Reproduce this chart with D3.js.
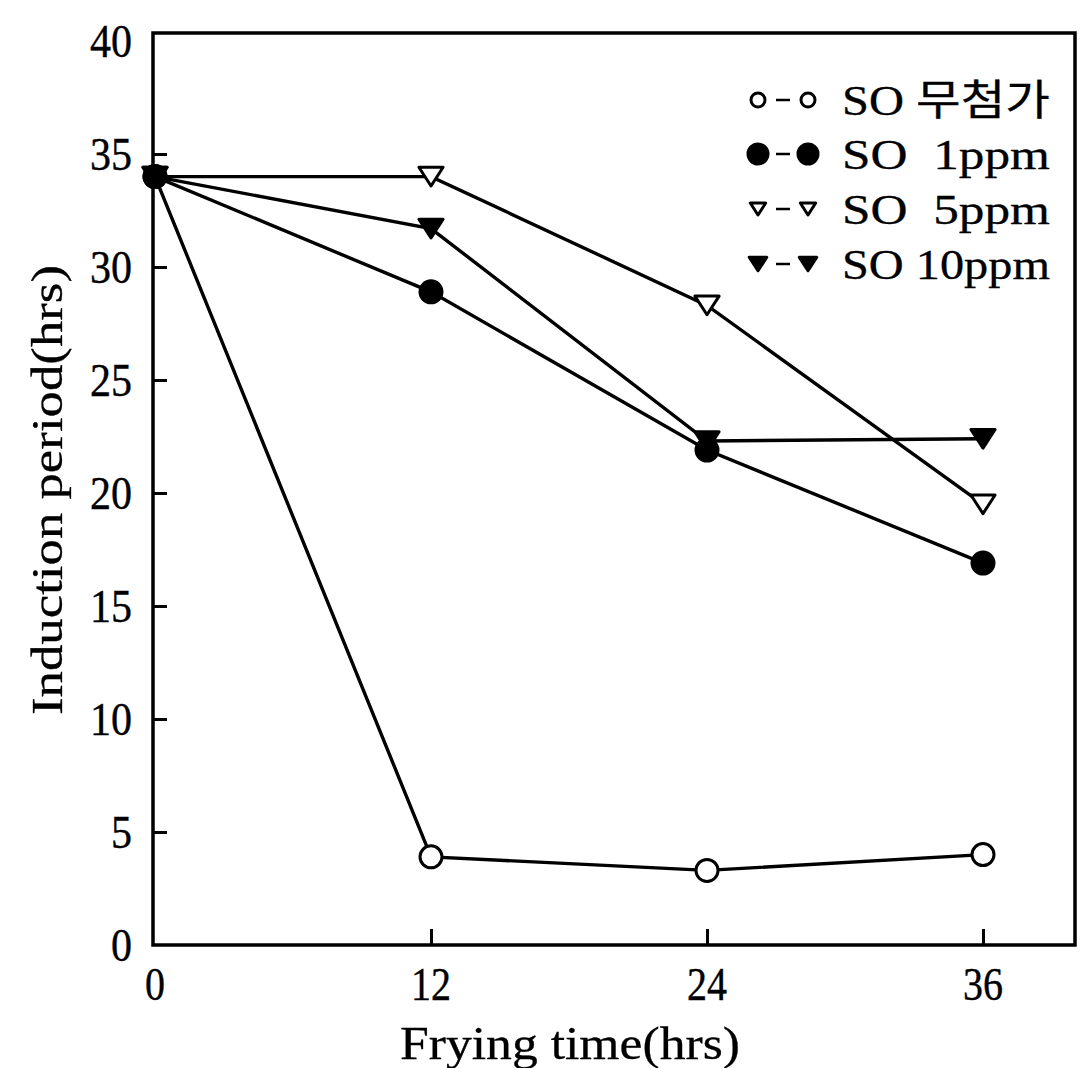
<!DOCTYPE html>
<html>
<head>
<meta charset="utf-8">
<script src="https://cdn.jsdelivr.net/npm/d3@7"></script>
<style>
  body { margin: 0; background: #fff; }
  svg text { font-family: "Liberation Serif", "DejaVu Serif", "Noto Sans CJK KR", serif; fill: #000; }
</style>
</head>
<body>
<div id="chart"></div>
<script>
// frying time (hrs)
var hours = [0, 12, 24, 36];

// induction period (hrs) for each treatment
var soNone = [34, 3.9, 3.3, 4.0];
var so1ppm = [34, 28.9, 21.9, 16.9];
var so5ppm = [34, 34.0, 28.3, 19.5];
var so10ppm = [34, 31.7, 22.3, 22.4];

var seriesNames = ["SO 무첨가", "SO  1ppm", "SO  5ppm", "SO 10ppm"];
var seriesMarks = ["circleOpen", "circleFill", "triOpen", "triFill"];

var xTicks = [0, 12, 24, 36];
var yTicks = [0, 5, 10, 15, 20, 25, 30, 35, 40];

var width = 1080, height = 1068;
// plot frame (don't call it "top", window.top is taken)
var frameL = 153, frameR = 1075, frameT = 33, frameB = 945;

var svg = d3.select("#chart").append("svg")
    .attr("width", width)
    .attr("height", height);

var x = d3.scaleLinear().domain([0, 40]).range([155, 1075]);
var y = d3.scaleLinear().domain([0, 40]).range([945, 41]);

// frame
svg.append("rect")
    .attr("x", frameL).attr("y", frameT)
    .attr("width", frameR - frameL).attr("height", frameB - frameT)
    .attr("fill", "none").attr("stroke", "#000").attr("stroke-width", 3.5);

// y axis, ticks pointing inward
var yAxis = svg.append("g")
    .attr("transform", "translate(" + frameL + ",0)")
    .call(d3.axisRight(y).tickValues(yTicks.slice(1, -1)).tickSize(14).tickFormat(""));
yAxis.select(".domain").remove();
yAxis.selectAll("line").attr("stroke", "#000").attr("stroke-width", 3);

svg.selectAll(".ylab").data(yTicks).enter().append("text")
    .attr("class", "ylab")
    .attr("x", 132)
    .attr("y", function(d) { return y(d) + 16; })
    .attr("text-anchor", "end")
    .attr("textLength", function(d) { return String(d).length * 21; })
    .attr("lengthAdjust", "spacingAndGlyphs")
    .style("font-size", "46px")
    .style("stroke", "#000").style("stroke-width", 0.4)
    .text(function(d) { return d; });

// x axis, ticks pointing inward
var xAxis = svg.append("g")
    .attr("transform", "translate(0," + frameB + ")")
    .call(d3.axisTop(x).tickValues(xTicks.slice(1)).tickSize(16).tickFormat(""));
xAxis.select(".domain").remove();
xAxis.selectAll("line").attr("stroke", "#000").attr("stroke-width", 3);

svg.selectAll(".xlab").data(xTicks).enter().append("text")
    .attr("class", "xlab")
    .attr("x", function(d) { return x(d); })
    .attr("y", 1000)
    .attr("text-anchor", "middle")
    .attr("textLength", function(d) { return String(d).length * 20; })
    .attr("lengthAdjust", "spacingAndGlyphs")
    .style("font-size", "46px")
    .style("stroke", "#000").style("stroke-width", 0.4)
    .text(function(d) { return d; });

svg.append("text")
    .attr("x", 570).attr("y", 1059)
    .attr("text-anchor", "middle")
    .attr("textLength", 340)
    .attr("lengthAdjust", "spacingAndGlyphs")
    .style("font-size", "46px")
    .style("stroke", "#000").style("stroke-width", 0.3)
    .text("Frying time(hrs)");

svg.append("text")
    .attr("transform", "translate(62,490) rotate(-90)")
    .attr("text-anchor", "middle")
    .attr("textLength", 450)
    .attr("lengthAdjust", "spacingAndGlyphs")
    .style("font-size", "45px")
    .style("stroke", "#000").style("stroke-width", 0.3)
    .text("Induction period(hrs)");

// markers
function drawMark(g, kind, cx, cy, s) {
    if (kind == "circleOpen" || kind == "circleFill") {
        g.append("circle")
            .attr("cx", cx).attr("cy", cy).attr("r", s)
            .attr("fill", kind == "circleFill" ? "#000" : "#fff")
            .attr("stroke", "#000").attr("stroke-width", 3);
    } else {
        var h = s * 1.7;
        var pts = [[cx - s * 1.1, cy - h / 2], [cx + s * 1.1, cy - h / 2], [cx, cy + h / 2]];
        g.append("path")
            .attr("d", d3.line()(pts) + "Z")
            .attr("fill", kind == "triFill" ? "#000" : "#fff")
            .attr("stroke", "#000").attr("stroke-width", 3)
            .attr("stroke-linejoin", "round");
    }
}

var allSeries = [soNone, so1ppm, so5ppm, so10ppm];
var line = d3.line()
    .x(function(d, i) { return x(hours[i]); })
    .y(function(d) { return y(d); });

allSeries.forEach(function(vals) {
    svg.append("path")
        .attr("d", line(vals))
        .attr("fill", "none")
        .attr("stroke", "#000")
        .attr("stroke-width", 3.4);
});

allSeries.forEach(function(vals, k) {
    var g = svg.append("g");
    vals.forEach(function(v, i) {
        drawMark(g, seriesMarks[k], x(hours[i]), y(v), 11);
    });
});

// legend
var legRows = [100, 154, 209, 264];
seriesNames.forEach(function(name, k) {
    var g = svg.append("g");
    var cy = legRows[k];
    var s = (seriesMarks[k] == "circleFill") ? 10 : 7;
    if (seriesMarks[k] == "triFill") s = 8;
    drawMark(g, seriesMarks[k], 758, cy, s);
    g.append("line")
        .attr("x1", 776).attr("x2", 790)
        .attr("y1", cy).attr("y2", cy)
        .attr("stroke", "#000").attr("stroke-width", 2.5);
    drawMark(g, seriesMarks[k], 808, cy, s);
    g.append("text")
        .attr("x", 842).attr("y", cy + 15)
        .attr("textLength", 208)
        .attr("lengthAdjust", "spacingAndGlyphs")
        .style("font-size", "42px")
        .style("stroke", "#000").style("stroke-width", 0.3)
        .style("white-space", "pre")
        .attr("xml:space", "preserve")
        .text(name);
});
</script>
</body>
</html>
